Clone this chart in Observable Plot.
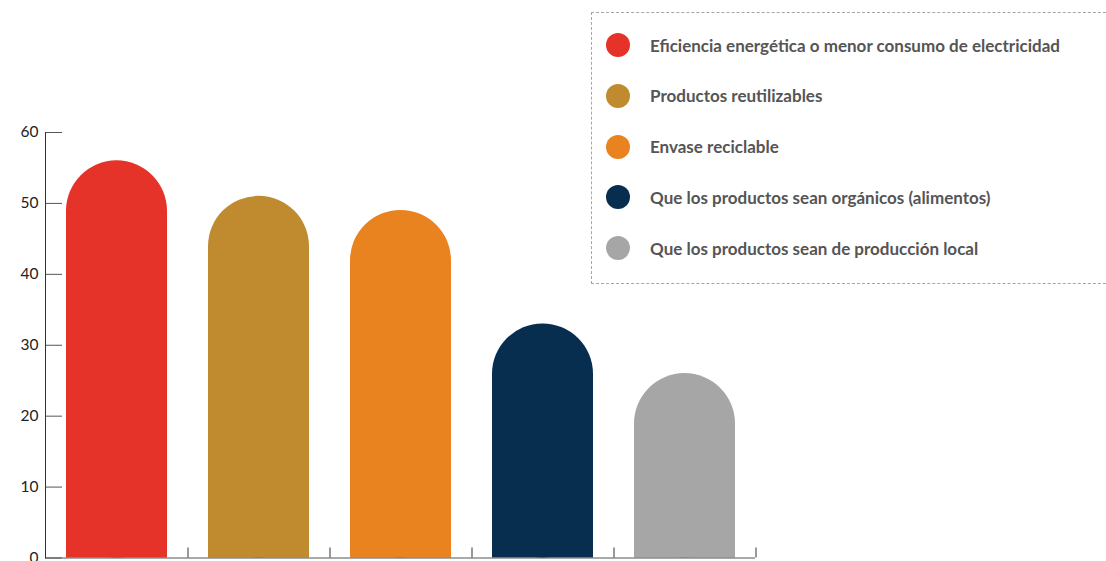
<!DOCTYPE html>
<html>
<head>
<meta charset="utf-8">
<script src="https://cdn.jsdelivr.net/npm/d3@7"></script>
<script src="https://cdn.jsdelivr.net/npm/@observablehq/plot@0.6"></script>
<style>
  html, body { margin: 0; padding: 0; background: #fff; }
  #wrap { position: relative; width: 1106px; height: 561px; overflow: hidden; }
  #legend {
    position: absolute; left: 591px; top: 12px; width: 540px; height: 272px;
    border: 1px dashed #a6a6a6; box-sizing: border-box;
    font-family: Lato, "Noto Sans", sans-serif; font-weight: 700; font-size: 17px; color: #555;
  }
  .item { position: absolute; left: 0; height: 24px; display: flex; align-items: center; }
  .sw { width: 24px; height: 24px; border-radius: 50%; margin-left: 14px; margin-right: 20px; }
</style>
</head>
<body>
<div id="wrap"><div id="chart"></div><div id="legend"></div></div>
<script>
const categories = [
  "Eficiencia energética o menor consumo de electricidad",
  "Productos reutilizables",
  "Envase reciclable",
  "Que los productos sean orgánicos (alimentos)",
  "Que los productos sean de producción local"
];
const values = [56, 51, 49, 33, 26];
const colors = ["#e5332a", "#bf8b2e", "#e8831f", "#072d4f", "#a7a6a7"];
const yTicks = [0, 10, 20, 30, 40, 50, 60];

const data = categories.map((c, i) => ({category: c, value: values[i]}));

const chart = Plot.plot({
  width: 1106,
  height: 561,
  marginLeft: 45,
  marginRight: 351,
  marginTop: 132,
  marginBottom: 3.5,
  style: {fontFamily: "Lato, 'Noto Sans', sans-serif", fontSize: "15px", color: "#222", background: "transparent"},
  x: {domain: categories, paddingInner: 0.29, paddingOuter: 0.145, axis: null},
  y: {domain: [0, 60], axis: null},
  color: {domain: categories, range: colors},
  marks: [
    Plot.barY(data, {x: "category", y: "value", fill: "category", rx: 50.4, ry: 50.4}),
    Plot.barY(data, {x: "category", y: "value", fill: "category", insetTop: 52}),
    Plot.axisY({ticks: yTicks, tickSize: 17, dx: 17, tickPadding: 7, stroke: "#555", fill: "#222", fontSize: 15.5, label: null}),
    Plot.axisX({tickSize: -10, dx: 71, tickFormat: () => "", stroke: "#333", label: null}),
    Plot.frame({anchor: "left", stroke: "#333"}),
    Plot.ruleY([0], {stroke: "#555"})
  ]
});
document.getElementById("chart").appendChild(chart);

const legend = document.getElementById("legend");
categories.forEach((c, i) => {
  const item = document.createElement("div");
  item.className = "item";
  item.style.top = (20 + i * 50.8) + "px";
  const sw = document.createElement("span");
  sw.className = "sw";
  sw.style.background = colors[i];
  const t = document.createElement("span");
  t.textContent = c;
  item.appendChild(sw);
  item.appendChild(t);
  legend.appendChild(item);
});
</script>
</body>
</html>
